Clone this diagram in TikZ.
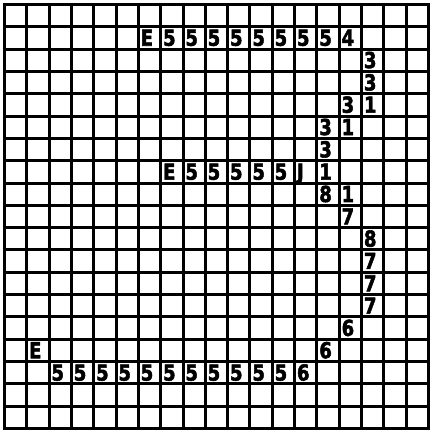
\documentclass[tikz,border=0pt]{standalone}
\usepackage{fontspec}
\newfontfamily\cellfont{DejaVu Sans}[BoldFeatures={FakeBold=2.5}]
\begin{document}
\begin{tikzpicture}[x=1cm, y=1cm,
    cellchar/.style={anchor=base west, inner sep=0pt, font=\cellfont\bfseries\fontsize{28}{28}\selectfont}]
    \useasboundingbox (-0.2,-0.12) rectangle (19.2,19.2);

    % Gitter 19 x 19
    \draw[line width=3.8pt] (0,0) grid (19,19);
    \draw[line width=3.8pt] (0,0) rectangle (19,19);

    % Obere Zeile
    \node[cellchar] (z1-6) at (6.1, 17.15) {\scalebox{0.82}[1]{E}};
    \foreach \c in {7,...,14}
        \node[cellchar] (z1-\c) at (\c+0.1, 17.15) {\scalebox{0.82}[1]{5}};
    \node[cellchar] (z1-15) at (15.1, 17.15) {\scalebox{0.82}[1]{4}};

    % Mittlere Zeile
    \node[cellchar] (z7-7) at (7.1, 11.15) {\scalebox{0.82}[1]{E}};
    \foreach \c in {8,...,12}
        \node[cellchar] (z7-\c) at (\c+0.1, 11.15) {\scalebox{0.82}[1]{5}};
    \node[cellchar] (z7-13) at (13.1, 11.15) {\scalebox{0.82}[1]{J}};

    % Untere Zeile
    \node[cellchar] (z15-1) at (1.1, 3.15) {\scalebox{0.82}[1]{E}};
    \foreach \c in {2,...,12}
        \node[cellchar] (z16-\c) at (\c+0.1, 2.15) {\scalebox{0.82}[1]{5}};
    \node[cellchar] (z16-13) at (13.1, 2.15) {\scalebox{0.82}[1]{6}};

    % Rechte Spalte (Spalte/Zeile/Zeichen)
    \foreach \c/\r/\t in {16/2/3, 16/3/3, 15/4/3, 16/4/1, 14/5/3, 15/5/1, 14/6/3,
                          14/7/1, 14/8/8, 15/8/1, 15/9/7, 16/10/8, 16/11/7, 16/12/7,
                          16/13/7, 15/14/6, 14/15/6}
        \node[cellchar] (z\r-\c) at (\c+0.1, 18.15-\r) {\scalebox{0.82}[1]{\t}};
\end{tikzpicture}
\end{document}
